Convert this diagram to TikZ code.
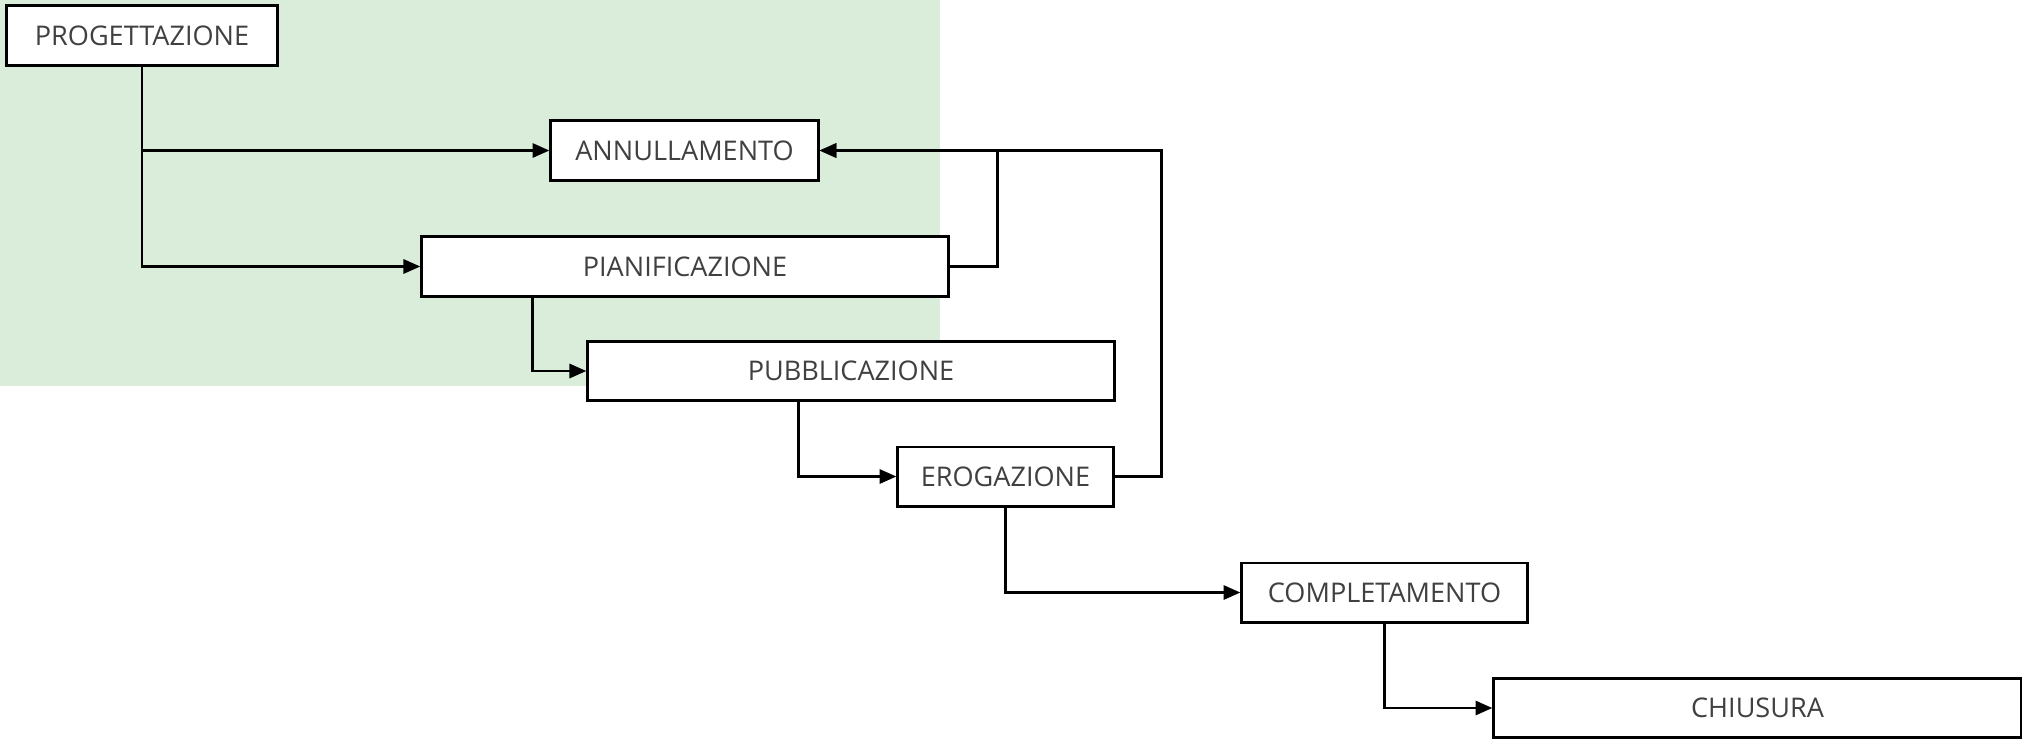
\documentclass[tikz,border=0pt]{standalone}
\usepackage{fontspec}
\setmainfont{Open Sans}
\usepackage{tikz}
\usetikzlibrary{positioning, arrows.meta, calc}
\definecolor{sfondo}{RGB}{218,237,219}
\definecolor{testo}{RGB}{64,64,64}
\tikzset{fase/.style={draw, line width=0.85pt, fill=white, inner sep=0pt, minimum height=0.59cm, text=testo, font=\fontsize{7.7}{9}\selectfont}}
\tikzset{arrf/.style={draw, line width=0.8pt, -{Triangle[length=4.8pt, width=4pt]}}}

\begin{document}
\begin{tikzpicture}[x=0.01cm, y=-0.01cm]
			\useasboundingbox (0,0) rectangle (2022,742);
			\fill[sfondo] (0,0) rectangle (940,386);
			%
			\node[fase, minimum width=2.70cm] (prog) at (142,35.5) {PROGETTAZIONE};
			\node[fase, minimum width=2.67cm] (annul) at (684.5,150.5) {ANNULLAMENTO};
			\node[fase, minimum width=5.26cm] (pian) at (685,266.5) {PIANIFICAZIONE};
			\node[fase, minimum width=5.26cm] (pubb) at (851,371) {PUBBLICAZIONE};
			\node[fase, minimum width=2.15cm] (erog) at (1005.5,476.5) {EROGAZIONE};
			\node[fase, minimum width=2.85cm] (compl) at (1384.5,592.5) {COMPLETAMENTO};
			\node[fase, minimum width=5.27cm] (chius) at (1757.5,708) {CHIUSURA};
			%
			\draw[arrf] (prog.south) |- (annul.west);
			\draw[arrf] (prog.south) |- (pian.west);
			\draw[arrf] ([xshift=1.12cm]pian.south west) |- (pubb.west);
			\draw[arrf] ([xshift=2.12cm]pubb.south west) |- (erog.west);
			\draw[arrf] (erog.south) |- (compl.west);
			\draw[arrf] (compl.south) |- (chius.west);
			%
			% ritorni verso annullamento
			\draw[arrf] (pian.east) -- ++(48,0) |- (annul.east);
			\draw[arrf] (erog.east) -- ++(47,0) |- (annul.east);
		\end{tikzpicture}
\end{document}
